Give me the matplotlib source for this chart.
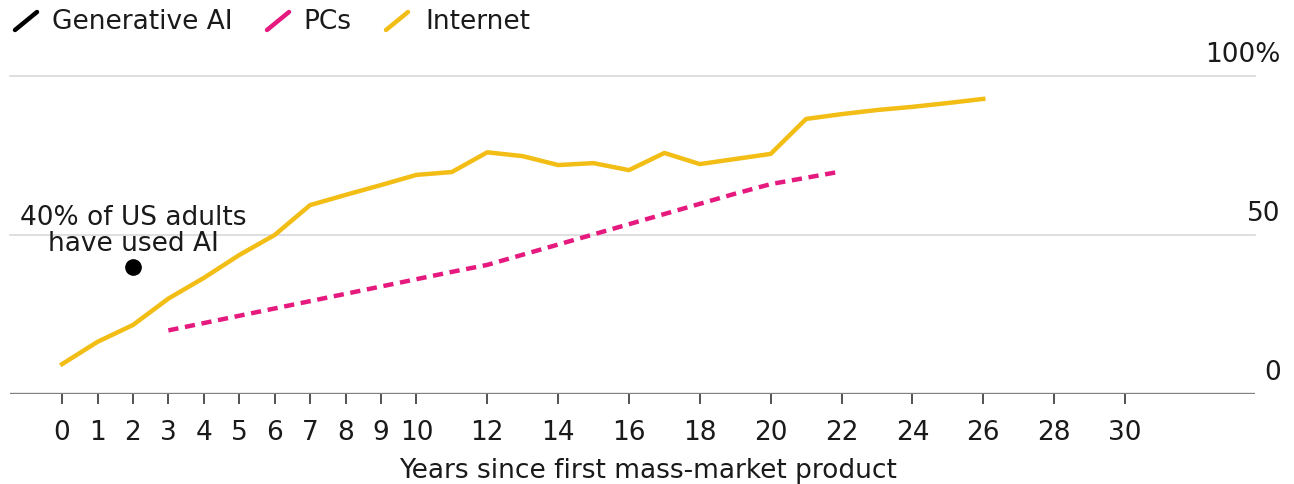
import matplotlib.pyplot as plt
from matplotlib.lines import Line2D
import matplotlib.transforms as mtransforms

plt.rcParams['font.family'] = ['DejaVu Sans']

internet_years = list(range(0, 27))
internet_share = [9.4, 16.4, 21.7, 30, 36.5, 43.7, 50, 59.4, 62.6, 65.7, 68.9, 69.8,
                  76, 74.8, 72, 72.6, 70.4, 75.8, 72.3, 73.9, 75.5, 86.5, 88, 89.3,
                  90.3, 91.5, 92.8]

pc_years = list(range(3, 23))
pc_share = [20, 22.3, 24.6, 26.9, 29.2, 31.5, 33.8, 36.1, 38.4, 40.6, 43.8, 47,
            50.2, 53.4, 56.6, 59.8, 63, 66, 68, 70]

ai_year = [2]
ai_share = [40]

xtick_vals = list(range(0, 11)) + list(range(12, 31, 2))
ytick_vals = [0, 50, 100]
ytick_labels = ['0', '50', '100%']

YELLOW = '#F2BD14'
PINK = '#E6197E'
TXT = '#1a1a1a'
FS = 19


def main():
    fig = plt.figure(figsize=(12.94, 4.85), dpi=100)
    ax = fig.add_axes([10 / 1294, 90 / 485, 1245 / 1294, 318 / 485])

    ax.plot(internet_years, internet_share, color=YELLOW, lw=3.2,
            solid_joinstyle='round', clip_on=False, zorder=3)
    ax.plot(pc_years, pc_share, color=PINK, lw=3.2, dashes=(2.3, 1.5),
            clip_on=False, zorder=3)
    ax.plot(ai_year, ai_share, 'o', color='black', ms=11, zorder=4)

    ax.text(2, 43.3, '40% of US adults\nhave used AI', ha='center', va='bottom',
            fontsize=FS, color=TXT, linespacing=1.0)

    ax.set_xlim(-1.47, 33.67)
    ax.set_ylim(0, 100)

    for y in ytick_vals[1:]:
        ax.axhline(y, color='#d9d9d9', lw=1.2, zorder=1, clip_on=False)
    ax.axhline(0, color='#808080', lw=2.4, zorder=2)

    trans = mtransforms.blended_transform_factory(ax.transAxes, ax.transData)
    for y, lab in zip(ytick_vals, ytick_labels):
        ax.text(1.0205, y + 2.8, lab, transform=trans, ha='right', va='bottom',
                fontsize=FS, color=TXT)

    for s in ax.spines.values():
        s.set_visible(False)
    ax.set_yticks([])
    ax.set_xticks(xtick_vals)
    ax.set_xticklabels([str(v) for v in xtick_vals], fontsize=FS, color=TXT)
    ax.tick_params(axis='x', length=7, width=1.3, color='#444444', pad=11)

    fig.text(648 / 1294, 1 - 471 / 485, 'Years since first mass-market product',
             ha='center', va='center', fontsize=FS, color=TXT)

    # legend drawn by hand
    entries = [('Generative AI', 'black', 15, 52), ('PCs', PINK, 267, 303),
               ('Internet', YELLOW, 386, 425)]
    for label, col, x0, xt in entries:
        fig.add_artist(Line2D([x0 / 1294, (x0 + 22) / 1294],
                              [1 - 31 / 485, 1 - 13 / 485],
                              color=col, lw=3.2, solid_capstyle='round'))
        fig.text(xt / 1294, 1 - 22 / 485, label, ha='left', va='center',
                 fontsize=FS, color=TXT)

    fig.savefig('out.png', dpi=100)


if __name__ == "__main__":
    main()
